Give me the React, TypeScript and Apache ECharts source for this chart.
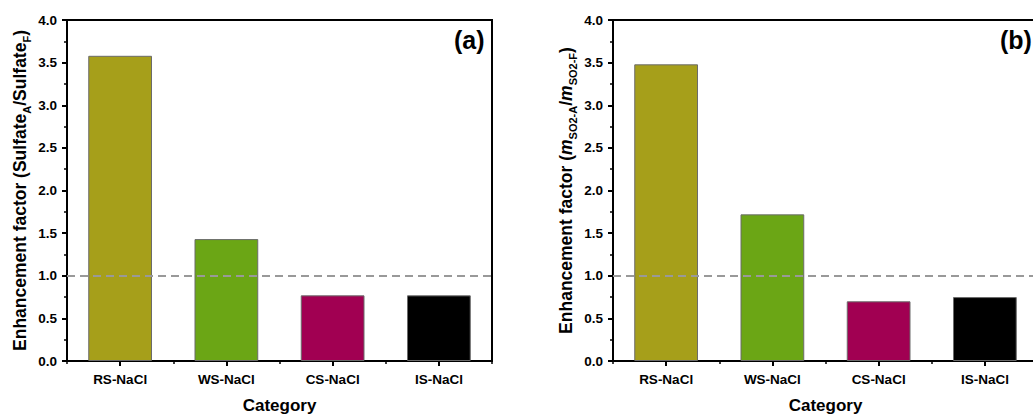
import React, { useEffect, useRef } from "react";
import * as echarts from "echarts";

const categories = ["RS-NaCl", "WS-NaCl", "CS-NaCl", "IS-NaCl"];
const sulfateFactor = [3.58, 1.43, 0.77, 0.77];
const massFactor = [3.48, 1.72, 0.7, 0.75];
const barColors = ["#A69F1A", "#6BA615", "#A10052", "#000000"];
const referenceLevel = 1.0;
const panelLabels = ["(a)", "(b)"];

const FONT = "'Liberation Sans', Arial, sans-serif";

function makeData(values: number[]) {
  return values.map((v, i) => ({ value: v, itemStyle: { color: barColors[i] } }));
}

const richName = {
  b: { fontSize: 17.5, fontWeight: "bold", fontFamily: FONT, color: "#000", lineHeight: 24 },
  i: { fontSize: 17.5, fontWeight: "bold", fontStyle: "italic", fontFamily: FONT, color: "#000", lineHeight: 24 },
  s: { fontSize: 11, fontWeight: "bold", fontFamily: FONT, color: "#000", lineHeight: 13, verticalAlign: "bottom" },
};

export default function App() {
  const ref = useRef<HTMLDivElement>(null);
  useEffect(() => {
    if (!ref.current) return;
    const chart = echarts.init(ref.current, null, { renderer: "svg" });
    const grids = [
      { left: 67, top: 20, width: 425, height: 341 },
      { left: 613, top: 20, width: 425, height: 341 },
    ];
    const names = [
      "{b|Enhancement factor (Sulfate}{s|A}{b|/Sulfate}{s|F}{b|)}",
      "{b|Enhancement factor (}{i|m}{s|SO2-A}{b|/}{i|m}{s|SO2-F}{b|)}",
    ];
    const xAxes: any[] = [];
    const yAxes: any[] = [];
    const series: any[] = [];
    [sulfateFactor, massFactor].forEach((vals, g) => {
      xAxes.push({
        type: "category",
        gridIndex: g,
        data: categories,
        name: "Category",
        nameLocation: "middle",
        nameGap: 36,
        nameTextStyle: { fontSize: 17, fontWeight: "bold", fontFamily: FONT, color: "#000" },
        axisLine: { lineStyle: { color: "#000", width: 2 } },
        axisTick: { show: true, alignWithLabel: true, inside: false, length: 5, lineStyle: { color: "#000", width: 2 } },
        axisLabel: { fontSize: 13.5, fontWeight: "bold", fontFamily: FONT, color: "#000", margin: 11 },
        splitLine: { show: false },
      });
      xAxes.push({
        type: "category",
        gridIndex: g,
        data: categories,
        position: "bottom",
        axisLine: { show: false },
        axisTick: { show: true, alignWithLabel: false, inside: false, length: 3, lineStyle: { color: "#000", width: 1.5 } },
        axisLabel: { show: false },
        splitLine: { show: false },
      });
      yAxes.push({
        type: "value",
        gridIndex: g,
        min: 0,
        max: 4,
        interval: 0.5,
        name: names[g],
        nameLocation: "middle",
        nameGap: 35,
        nameRotate: 90,
        nameTextStyle: { rich: richName },
        axisLine: { show: true, lineStyle: { color: "#000", width: 2 } },
        axisTick: { show: true, inside: false, length: 5, lineStyle: { color: "#000", width: 2 } },
        minorTick: { show: true, splitNumber: 2, length: 3, lineStyle: { color: "#000", width: 1.5 } },
        axisLabel: {
          fontSize: 13.5,
          fontWeight: "bold",
          fontFamily: FONT,
          color: "#000",
          margin: 10,
          formatter: (v: number) => v.toFixed(1),
        },
        splitLine: { show: false },
      });
      series.push({
        type: "bar",
        xAxisIndex: g * 2,
        yAxisIndex: g,
        data: makeData(vals),
        barWidth: "60%",
        itemStyle: { borderColor: "#6b6b6b", borderWidth: 1 },
        markLine: {
          silent: true,
          symbol: "none",
          label: { show: false },
          lineStyle: { color: "#999", width: 2, type: [8, 5] },
          data: [{ yAxis: referenceLevel }],
        },
      });
    });
    chart.setOption({
      animation: false,
      backgroundColor: "#fff",
      grid: grids.map((g) => ({
        ...g,
        containLabel: false,
        outerBoundsMode: "none",
        show: true,
        borderColor: "#000",
        borderWidth: 2,
        backgroundColor: "transparent",
      })),
      xAxis: xAxes,
      yAxis: yAxes,
      series,
      graphic: panelLabels.map((t, g) => ({
        type: "text",
        x: grids[g].left + grids[g].width - 38,
        y: 40,
        style: {
          text: t,
          fontSize: 25,
          fontWeight: "bold",
          fontFamily: FONT,
          fill: "#000",
          textVerticalAlign: "middle",
          textAlign: "left",
        },
      })),
    });
    return () => chart.dispose();
  }, []);
  return (
    <div
      ref={ref}
      style={{ position: "fixed", left: 0, top: 0, width: 1033, height: 416 }}
    />
  );
}
